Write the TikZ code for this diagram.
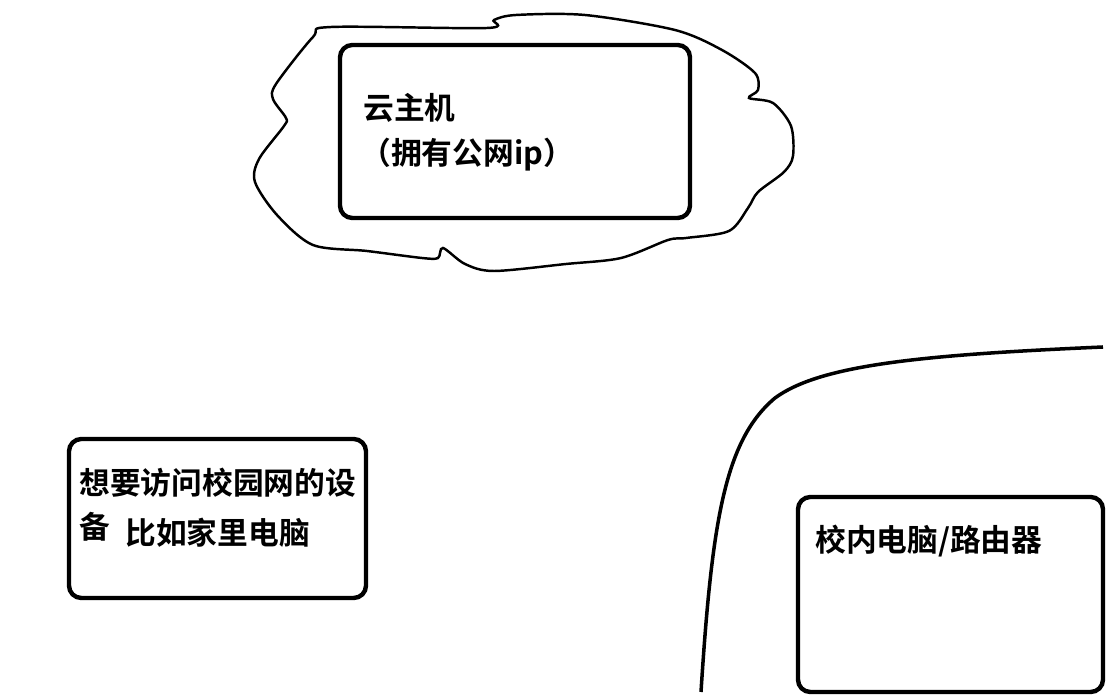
\documentclass[tikz,border=0pt]{standalone}
\usepackage{fontspec}
\setmainfont{Noto Sans CJK SC}[BoldFont={* Bold}]
\newfontfamily\cjk{Noto Sans CJK SC Bold}
\usetikzlibrary{positioning}

\begin{document}
\begin{tikzpicture}[x=0.02cm,y=-0.02cm, box/.style={draw,line width=2.5pt,rounded corners=7pt,inner sep=0pt}, label/.style={font=\cjk\fontsize{17.5}{20}\selectfont,inner sep=0pt,anchor=west}, wall/.style={line width=2pt}, cloudline/.style={line width=1.4pt}]
\useasboundingbox (0,0) rectangle (1107,695);
% cloud around the host
\draw[cloudline] plot[smooth cycle,tension=0.5] coordinates {(331,27) (487,28) (494,20) (516,15) (585,15) (675,30) (722,50) (755,73) (758,90) (749,98) (773,103) (791,126) (793,156) (784,172) (758,192) (748,208) (729,231) (686,238) (668,240) (621,258) (566,264) (494,271) (465,264) (443,248) (438,258) (422,258) (367,251) (313,245) (277,215) (255,182) (259,159) (284,126) (286,118) (273,99) (276,84) (313,37)};
\node[box,minimum width=350*0.02cm,minimum height=173*0.02cm] (host) at (515,131.5) {};
\node[box,minimum width=297*0.02cm,minimum height=159*0.02cm] (home) at (217.5,518.5) {};
\node[box,minimum width=305*0.02cm,minimum height=195*0.02cm] (campus) at (950.5,594.5) {};
\node[label] (hostname) at (363,108) {云主机};
\node[label] (hostip) at (360,155) {（拥有公网ip）};
\node[label] (homeA) at (79,483) {想要访问校园网的设};
\node[label] (homeB) at (79,527) {备};
\node[label] (homeC) at (125,533) {比如家里电脑};
\node[label] (campusname) at (815,541) {校内电脑/路由器};
% campus network boundary
\draw[wall] (701,692) .. controls (712,520) and (725,440) .. (775,398) .. controls (820,365) and (920,355) .. (1103,347);
\end{tikzpicture}
\end{document}
